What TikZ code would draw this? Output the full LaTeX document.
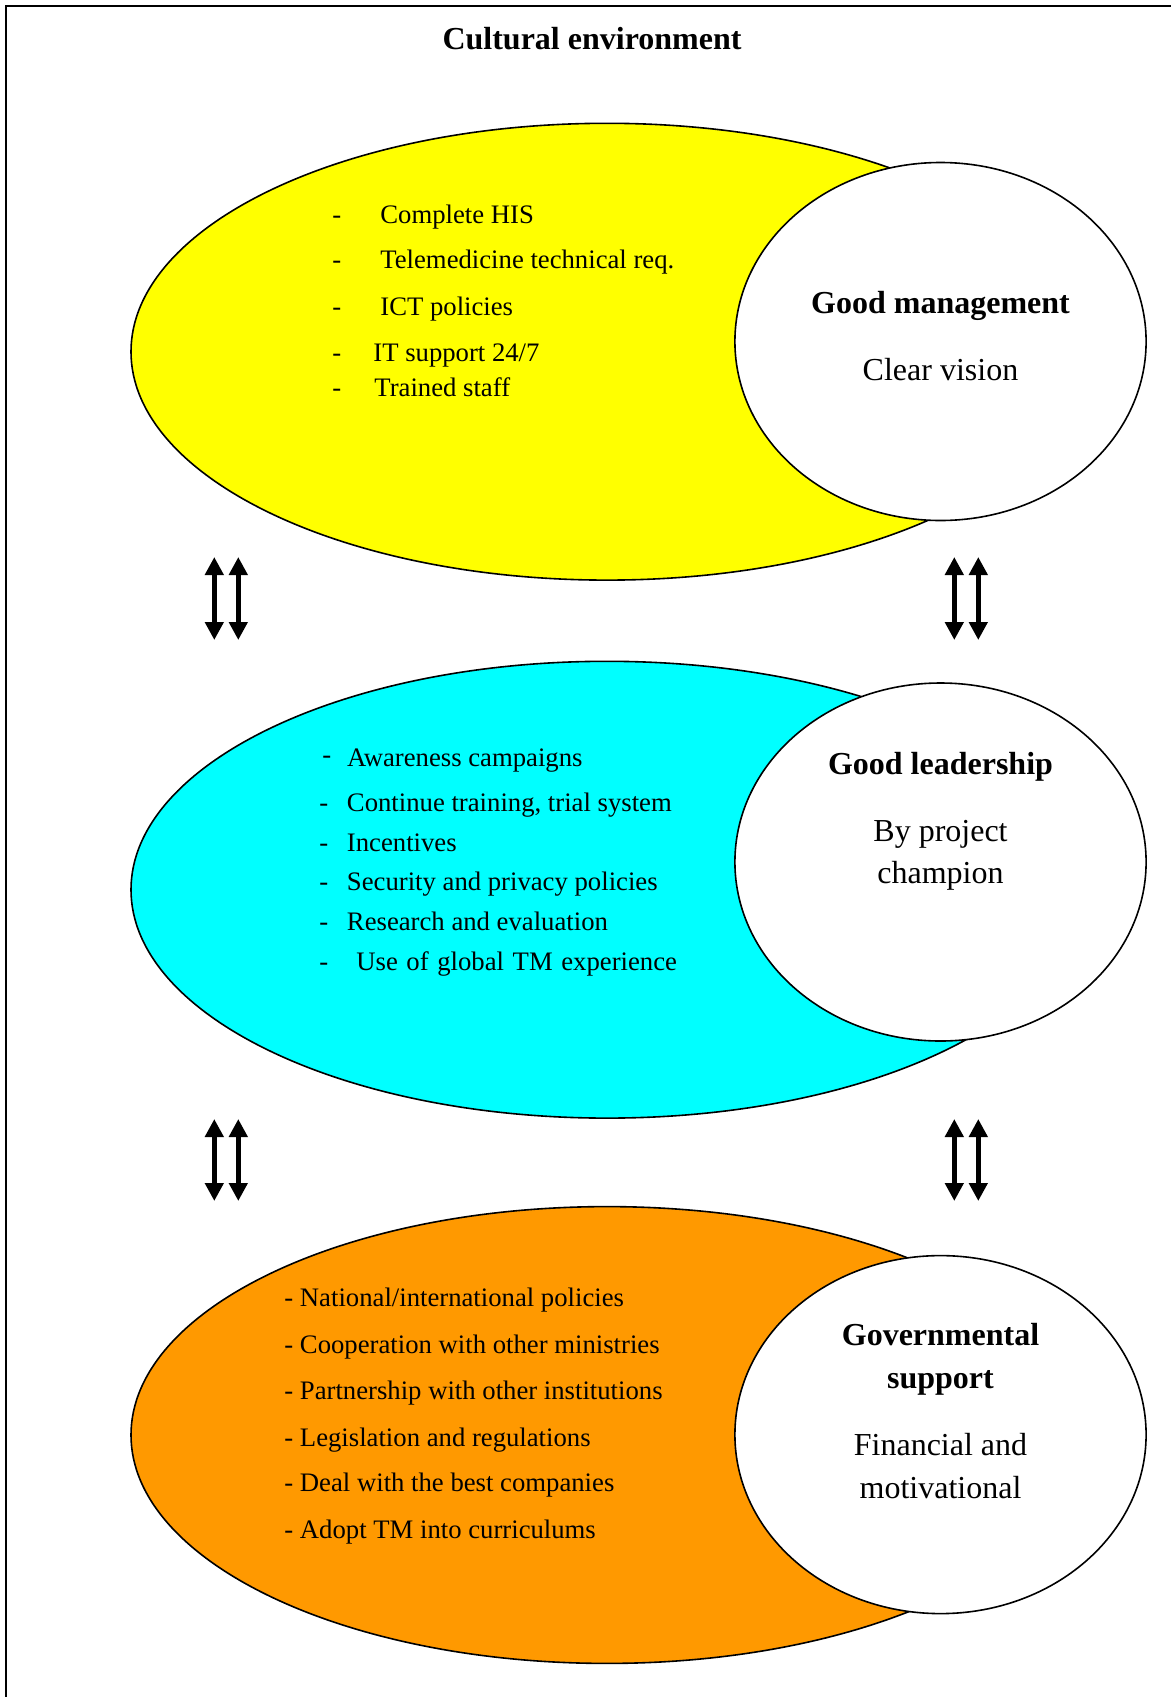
\documentclass[tikz,border=0pt]{standalone}
\usepackage{fontspec}
\setmainfont{Liberation Serif}
\usetikzlibrary{shapes.geometric,arrows.meta}
\begin{document}
\begin{tikzpicture}[x=0.5pt,y=-0.5pt,
  big/.style={ellipse,draw=black,line width=0.8pt,inner sep=0pt,minimum width=476pt,minimum height=228.4pt},
  circ/.style={ellipse,draw=black,fill=white,line width=0.8pt,inner sep=0pt,minimum width=205.6pt,minimum height=179pt},
  item/.style={anchor=base west,inner sep=0pt,font=\fontsize{13.35}{16}\selectfont},
  head/.style={anchor=base,inner sep=0pt,font=\fontsize{16}{19}\selectfont\bfseries},
  sub/.style={anchor=base,inner sep=0pt,font=\fontsize{16}{19}\selectfont},
  dbl/.style={line width=2.5pt,{Triangle[width=9pt,length=9pt]}-{Triangle[width=9pt,length=9pt]}}]
\useasboundingbox (0,0) rectangle (1171,1697);
\fill[white] (0,0) rectangle (1171,1697);
\draw[line width=1pt] (6,1697) -- (6,6) -- (1171,6);
\node[head] (title) at (592,49) {Cultural environment};
% top
\node[big,fill={rgb,255:red,255;green,255;blue,0}] (e1) at (607,351.7) {};
\node[circ] (c1) at (940.5,341.5) {};
\node[item] (t11) at (332,223.3) {\makebox[24pt][l]{-}Complete HIS};
\node[item] (t12) at (332,268.3) {\makebox[24pt][l]{-}Telemedicine technical req.};
\node[item] (t13) at (332,315) {\makebox[24pt][l]{-}ICT policies};
\node[item] (t14) at (332,361.7) {\makebox[20.5pt][l]{-}IT support 24/7};
\node[item] (t15) at (332,396) {\makebox[21pt][l]{-}Trained staff};
\node[head] (h1) at (940.5,313.3) {Good management};
\node[sub] (s1) at (940.5,380) {Clear vision};
% middle
\node[big,fill={rgb,255:red,0;green,255;blue,255}] (e2) at (607,889.7) {};
\node[circ] (c2) at (940.5,862) {};
\node[item] (t21) at (322,766.7) {\makebox[12.3pt][l]{\raisebox{1.5pt}{-}}Awareness campaigns};
\node[item] (t22) at (319,811.7) {\makebox[13.8pt][l]{-}Continue training, trial system};
\node[item] (t23) at (319,851.7) {\makebox[13.8pt][l]{-}Incentives};
\node[item] (t24) at (319,890.7) {\makebox[13.8pt][l]{-}Security and privacy policies};
\node[item] (t25) at (319,930.7) {\makebox[13.8pt][l]{-}Research and evaluation};
\node[item] (t26) at (319,970) {\makebox[18.5pt][l]{-}Use\hspace{4.3pt}of\hspace{4.3pt}global\hspace{4.3pt}TM\hspace{4.3pt}experience};
\node[head] (h2) at (940.5,774) {Good leadership};
\node[sub] (s2a) at (940.5,841) {By project};
\node[sub] (s2b) at (940.5,883.5) {champion};
% bottom
\node[big,fill={rgb,255:red,255;green,153;blue,0}] (e3) at (607,1435) {};
\node[circ] (c3) at (940.5,1434.6) {};
\node[item] (t31) at (284,1306) {- National/international policies};
\node[item] (t32) at (284,1353.3) {- Cooperation with other ministries};
\node[item] (t33) at (284,1399.3) {- Partnership with other institutions};
\node[item] (t34) at (284,1446) {- Legislation and regulations};
\node[item] (t35) at (284,1491.7) {- Deal with the best companies};
\node[item] (t36) at (284,1538.3) {- Adopt TM into curriculums};
\node[head] (h3a) at (940.5,1345) {Governmental};
\node[head] (h3b) at (940.5,1388.3) {support};
\node[sub] (s3a) at (940.5,1455.7) {Financial and};
\node[sub] (s3b) at (940.5,1498.3) {motivational};
% arrows
\coordinate (a1t) at (214.3,557); \coordinate (a1b) at (214.3,640);
\coordinate (a2t) at (238.3,557); \coordinate (a2b) at (238.3,640);
\coordinate (a3t) at (954.3,557); \coordinate (a3b) at (954.3,640);
\coordinate (a4t) at (978.3,557); \coordinate (a4b) at (978.3,640);
\coordinate (b1t) at (214.3,1119); \coordinate (b1b) at (214.3,1201);
\coordinate (b2t) at (238.3,1119); \coordinate (b2b) at (238.3,1201);
\coordinate (b3t) at (954.3,1119); \coordinate (b3b) at (954.3,1201);
\coordinate (b4t) at (978.3,1119); \coordinate (b4b) at (978.3,1201);
\foreach \p in {a1,a2,a3,a4,b1,b2,b3,b4}{\draw[dbl] (\p t) -- (\p b);}
\end{tikzpicture}
\end{document}
